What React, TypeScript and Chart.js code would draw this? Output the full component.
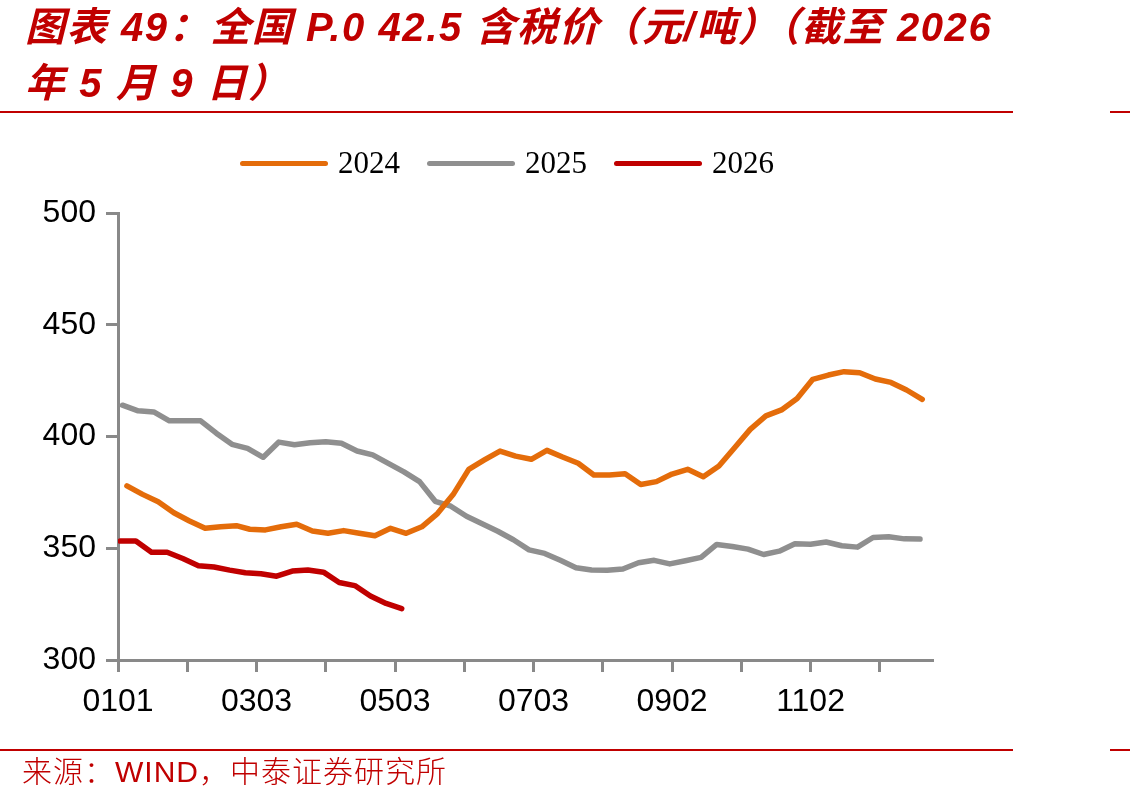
import React, { useEffect, useRef } from "react";
import { Chart, registerables } from "chart.js";

Chart.register(...registerables);

// Weekly national P.O 42.5 cement price incl. tax (yuan/ton), one array per year
const values2024 = [
  377.9, 374.1, 370.8, 365.9, 362.2, 358.9, 359.6, 360.1, 358.5, 358.2,
  359.6, 360.7, 357.7, 356.7, 357.9, 356.7, 355.6, 358.9, 356.7, 359.6,
  365.5, 374.0, 385.3, 389.5, 393.5, 391.2, 389.8, 393.8, 390.8, 388.0,
  382.8, 382.8, 383.3, 378.5, 379.8, 383.2, 385.3, 382.0, 386.8, 395.0,
  403.2, 409.2, 411.9, 417.0, 425.6, 427.5, 429.0, 428.5, 425.7, 424.2,
  420.8, 416.6,
];
const values2025 = [
  414.0, 411.5, 411.0, 407.0, 407.0, 407.0, 401.5, 396.5, 394.7, 390.7,
  397.5, 396.3, 397.2, 397.6, 397.0, 393.5, 391.8, 388.0, 384.2, 379.8,
  371.0, 368.8, 364.3, 361.0, 357.6, 353.8, 349.3, 347.7, 344.6, 341.3,
  340.3, 340.2, 340.7, 343.5, 344.6, 343.0, 344.4, 345.9, 351.7, 350.8,
  349.6, 347.2, 348.7, 352.0, 351.8, 352.8, 351.1, 350.5, 354.8, 355.1,
  354.2, 354.1,
];
const values2026 = [
  353.2, 353.2, 348.2, 348.2, 345.4, 342.2, 341.6, 340.2, 339.0, 338.6,
  337.5, 339.8, 340.3, 339.3, 334.7, 333.3, 328.6, 325.3, 323.0,
];

// First release date of each year (data is published every Friday)
const start2024 = [2024, 1, 5];
const start2025 = [2025, 1, 3];
const start2026 = [2026, 1, 2];

const seriesNames = ["2024", "2025", "2026"];
const seriesColors = ["#E46C0A", "#8F8F8F", "#C00000"];

// x axis: day of the year (MMDD on a common-year calendar)
const xTickDays = [0, 31, 62, 93, 124, 155, 186, 217, 248, 279, 310, 341];
const xTickLabels = ["0101", "", "0303", "", "0503", "", "0703", "", "0902", "", "1102", ""];
const yTicks = [300, 350, 400, 450, 500];

const DAY_MS = 86400000;

function dayOfYear(month: number, day: number): number {
  return Math.round((Date.UTC(2025, month - 1, day) - Date.UTC(2025, 0, 1)) / DAY_MS);
}

function weeklyPoints(start: number[], values: number[]) {
  const [y, m, d] = start;
  return values.map((v, i) => {
    const dt = new Date(Date.UTC(y, m - 1, d + 7 * i));
    return { x: dayOfYear(dt.getUTCMonth() + 1, dt.getUTCDate()), y: v };
  });
}

const AXIS_GREY = "#898989";
const RED = "#C00000";
const SANS = '"Liberation Sans", Arial, "Noto Sans CJK SC", sans-serif';

export default function App() {
  const canvasRef = useRef<HTMLCanvasElement | null>(null);

  useEffect(() => {
    const canvas = canvasRef.current;
    if (!canvas) return;
    const all = [values2024, values2025, values2026];
    const starts = [start2024, start2025, start2026];
    const chart = new Chart(canvas, {
      type: "line",
      data: {
        datasets: all.map((vals, i) => ({
          label: seriesNames[i],
          data: weeklyPoints(starts[i], vals),
          borderColor: seriesColors[i],
          backgroundColor: seriesColors[i],
          borderWidth: 5.5,
          pointRadius: 0,
          tension: 0,
          borderJoinStyle: "round" as const,
          borderCapStyle: "round" as const,
        })),
      },
      options: {
        responsive: false,
        animation: false,
        devicePixelRatio: 1,
        layout: { padding: { top: 213, right: 196.6, bottom: 83, left: 0 } },
        plugins: {
          legend: { display: false },
          tooltip: { enabled: false },
        },
        scales: {
          x: {
            type: "linear",
            min: 0,
            max: 365,
            afterFit: (s: any) => {
              s.height = 60;
            },
            afterBuildTicks: (s: any) => {
              s.ticks = xTickDays.map((v) => ({ value: v }));
            },
            border: { display: true, color: AXIS_GREY, width: 3 },
            grid: {
              drawOnChartArea: false,
              drawTicks: true,
              tickLength: 12,
              tickWidth: 3,
              tickColor: AXIS_GREY,
              color: AXIS_GREY,
            },
            ticks: {
              autoSkip: false,
              maxRotation: 0,
              padding: 11,
              color: "#000",
              font: { family: SANS, size: 32 },
              callback: (_v: any, i: number) => xTickLabels[i],
            },
          },
          y: {
            type: "linear",
            min: 300,
            max: 500,
            afterFit: (s: any) => {
              s.width = 118;
            },
            afterBuildTicks: (s: any) => {
              s.ticks = yTicks.map((v) => ({ value: v }));
            },
            border: { display: true, color: AXIS_GREY, width: 3 },
            grid: {
              drawOnChartArea: false,
              drawTicks: true,
              tickLength: 12,
              tickWidth: 3,
              tickColor: AXIS_GREY,
              color: AXIS_GREY,
            },
            ticks: {
              padding: 10,
              color: "#000",
              font: { family: SANS, size: 32 },
            },
          },
        },
      },
    });
    return () => chart.destroy();
  }, []);

  const rule = (top: number) => (
    <>
      <div style={{ position: "absolute", left: 0, top, width: 1013, height: 2, background: RED }} />
      <div style={{ position: "absolute", left: 1110, top, width: 20, height: 2, background: RED }} />
    </>
  );

  return (
    <div
      style={{
        position: "absolute",
        left: 0,
        top: 0,
        width: 1130,
        height: 803,
        background: "#fff",
        overflow: "hidden",
      }}
    >
      <canvas
        ref={canvasRef}
        width={1130}
        height={803}
        style={{ position: "absolute", left: 0, top: 0, width: 1130, height: 803 }}
      />
      <div
        style={{
          position: "absolute",
          left: 25,
          top: -1,
          color: RED,
          fontFamily: SANS,
          fontWeight: 700,
          fontStyle: "italic",
          fontSize: 40,
          letterSpacing: 1.6,
          lineHeight: "56px",
          whiteSpace: "nowrap",
        }}
      >
        <div>图表 49：全国 P.0 42.5 含税价（元/吨）（截至 2026</div>
        <div>年 5 月 9 日）</div>
      </div>
      {rule(111)}
      <div
        style={{
          position: "absolute",
          left: 240,
          top: 145,
          height: 36,
          display: "flex",
          alignItems: "center",
        }}
      >
        {seriesNames.map((name, i) => (
          <div key={name} style={{ display: "flex", alignItems: "center", marginRight: 27 }}>
            <div
              style={{
                width: 88,
                height: 5,
                borderRadius: 3,
                background: seriesColors[i],
                marginRight: 10,
              }}
            />
            <span
              style={{
                fontFamily: '"Liberation Serif", "Times New Roman", serif',
                fontSize: 31,
                color: "#000",
                lineHeight: "36px",
              }}
            >
              {name}
            </span>
          </div>
        ))}
      </div>
      {rule(749)}
      <div
        style={{
          position: "absolute",
          left: 22,
          top: 754,
          color: RED,
          fontFamily: SANS,
          fontSize: 30,
          fontWeight: 300,
          letterSpacing: 1,
          lineHeight: "36px",
          whiteSpace: "nowrap",
        }}
      >
        来源：WIND，中泰证券研究所
      </div>
    </div>
  );
}
